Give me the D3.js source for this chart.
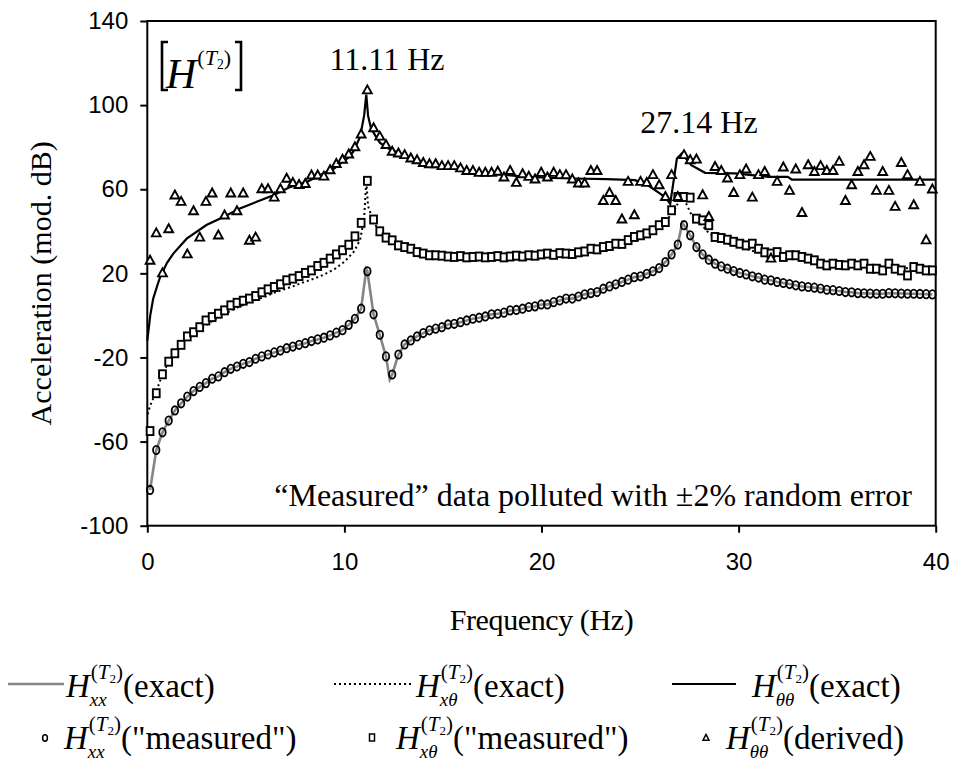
<!DOCTYPE html>
<html lang="en">
<head>
<meta charset="UTF-8">
<title>Acceleration FRF - H(T2)</title>
<script src="https://cdn.jsdelivr.net/npm/d3@7"></script>
<style>
    body{ margin:0; background:#fff; }
    .tick text{ font-family:"Liberation Sans", Arial, sans-serif; font-size:24px; fill:#000; }
    .serif{ font-family:"Liberation Serif", "Times New Roman", serif; fill:#000; }
</style>
</head>
<body>
<div class="container"></div>
<script>
    ////////////////////////////////////////////////////////////////
    /*                       Data                                 */
    ////////////////////////////////////////////////////////////////

    // sampled frequency grid (Hz) of the "measured" data
    const freqStart = 0.14
    const freqStep = 0.315

    // H_xx "measured" (circles)
    const xxMeasured = [
        -83, -64, -55.6, -50, -45.2, -41.8, -38.6, -36, -34, -32.2, -30.1, -29, -27, -25.4, -24.3, -23, -22.2, -20.6,
        -19.5, -18.6, -17.6, -16.7, -15.6, -14.8, -14, -13.2, -12.2, -11.4, -10.6, -9.5, -8.2, -7, -4.5, -1.6, 3.2, 21,
        0.5, -9.2, -19.5, -28.1,
        -18.6, -13.8, -11.9, -10, -8.4, -7.1, -6.3, -5.6, -4.3, -4, -3.2, -2.4, -1.6, -1.1, -0.5, 0.5, 0.8, 1.3, 2.4,
        2.6, 3.2, 4, 4.3, 5.2, 5.2, 6.3, 7.1, 8, 8, 9, 10, 10.6, 11.1, 12.7, 13.8, 14.8, 15.9, 17, 18.2,
        18.6, 19.8, 21, 22.5, 25.4, 29, 33.7, 42.9, 38.1, 32.5, 29, 26.5, 24.6, 23.3, 22.2, 21.1, 20.2, 19.5, 18.6, 18,
        17, 16.7, 15.9, 15.4, 14.9, 14.3, 13.8, 13.5, 13.2, 12.8, 12.2, 12, 11.6, 11.1, 11, 10.6, 10.5, 10.4, 10.3,
        10.3, 10.6, 10.5, 10.4, 10.3, 10.3, 10.2, 10.1, 10
    ]

    // H_xtheta "measured" (squares)
    const xtMeasured = [
        -55, -37, -28, -22, -18, -14, -10, -8, -5.6, -2.4, -0.8, 0.8, 2.4, 4.8, 6, 7, 8, 9.2, 11, 12.4, 13.5, 14.8,
        16.7, 17.5, 18.7, 20.2, 21.4, 23.5, 25, 27, 29, 31, 33.6, 37.6, 44, 64, 45.6, 40, 37, 35.7, 33.3,
        32.5, 31.7, 30.1, 29.4, 28.6, 28.6,
        28.4, 28, 27.8, 28.2, 27.6, 27.8, 28, 27.6, 27.8, 28.2, 27.6, 28, 28.4, 28, 28.6, 28.4, 29,
        29.4, 28.8, 29.6, 29.4, 29.2, 30, 30.4, 31.7, 31.4, 32.5, 33, 34.1, 34,
        35.8, 37.3, 38.1, 39, 40.5, 42.9, 44.4, 50, 56.3, 56.3, 56, 46, 45.2, 42.9, 37.3, 36.8, 36, 35, 34.1, 33.3, 34.1, 31.7,
        30, 29.4, 30.1, 27.8, 28.6, 28.6, 27.8, 27, 26.2, 24.6, 23.8, 24.6, 24, 23.8, 24.6, 23.8, 24.6, 22.2, 22.2,
        21.4, 24.6, 22.2, 21.4, 19, 23, 22.2, 21.4, 21.4
    ]

    // H_thetatheta derived (triangles)
    const ttDerived = [
        26, 39, 20, 41, 57, 54, 29, 49.5, 37, 54, 58, 38, 47.5, 58, 49.5, 58, 35.5, 37, 60, 60, 56, 60, 65, 63, 62,
        62.5, 66.5, 66.5, 66, 69, 72, 74, 76.5, 80, 86, 107,
        89, 85, 81,
        77.8, 77, 76.2, 74.6, 73.8, 72.5, 71.9, 71.9, 71, 71, 71, 69.9, 68.7, 68.7, 67.8, 67.8, 67.8, 68.3, 65.6, 68.7,
        63, 67.1, 65.9, 64.6, 67.8, 65.6, 67.8, 66.7, 66.7, 64.6, 62.7, 62.7, 68.7, 68.7, 54.4, 58.2, 54.4, 45.6, 63.5,
        47.6, 63.5,
        63, 66.7, 61.9, 56.3, 66.7, 56.3, 76.2, 73.8, 74.1, 57.1, 46.8,
        70.6, 68.7, 65.1, 58.2, 66.7, 69.4, 56, 66.7, 68.2, 27, 63.5, 70.3, 59.2, 69.4, 48.7, 71.4, 68.2, 71, 68.7,
        68.7, 73, 54.4, 61.9, 68.2, 71.4, 75.4, 59.2, 68.2, 59.2, 51.6, 72.5, 66.7, 52.4, 63.5, 35.7, 59.9
    ]

    // exact curves (frequency, value)
    const xxPeakF = [11.11, 12.3, 27.14]
    const xxPeakV = [22, -30.5, 44]

    const xtExactF = [0.02, 0.14, 0.46, 0.77, 1.09, 1.4, 1.72, 2.03, 2.5, 3, 3.5, 4, 4.5, 5, 5.5, 6, 6.5, 7, 7.5, 8,
        8.5, 9, 9.5, 10, 10.5, 10.8, 11.0, 11.11, 11.2, 11.5, 11.8, 12.2, 12.6, 13, 13.5, 14, 15, 16, 17, 18, 19, 20,
        21, 22, 23, 24, 25, 25.5, 26, 26.5, 26.8, 27.0, 27.14, 27.3, 27.6, 28, 28.4, 28.8, 29.5, 30, 31, 32, 33, 34,
        35, 36, 37, 38, 39, 40]
    const xtExactV = [-47, -43, -36, -28, -22, -17.8, -14, -10.5, -7.5, -4.5, -1.5, 1, 3.5, 5.5, 7.3, 9, 11, 12.6,
        14.2, 16, 17.6, 19.6, 22, 25.5, 30.5, 36, 46, 64, 52, 44, 40, 36.5, 34, 32.3, 30.8, 29.8, 28.8, 28.2, 27.9,
        27.9, 28.1, 28.6, 29.4, 30.5, 32.3, 34.7, 38, 40.5, 43, 47, 51, 55, 57, 54, 48, 44.5, 40, 37, 34, 32.5, 30,
        28.2, 26.8, 25.6, 24.6, 23.8, 23.2, 22.7, 22.3, 22]

    const ttExactF = [0.0, 0.15, 0.3, 0.5, 0.64, 1.0, 1.32, 2.0, 3.0, 3.86, 4.7, 5.55, 6.4, 7.24, 8.09, 8.93, 9.5,
        9.78, 10.2, 10.46, 10.8, 11.0, 11.11, 11.2, 11.35, 11.6, 11.81, 12.3, 12.83, 13.5, 14.0, 15, 16.55, 18, 19.09,
        20.5, 21.6, 23.3, 24.75, 25.4, 26.0, 26.3, 26.53, 26.87, 27.12, 27.6, 28.3, 29.8, 31.5, 32.5, 32.7, 40]
    const ttExactV = [-12, 0, 8, 14, 18, 25, 29.4, 36.5, 43, 46.8, 50.8, 54, 57.1, 61, 63.5, 67.5, 70, 72, 75, 78,
        85, 95, 105, 95, 89, 85, 82, 79, 77, 74, 72, 70.5, 68.2, 67, 66, 65.4, 65.1, 64.8, 64.3, 61.9, 58, 56, 53,
        74.6, 77, 71.4, 67.8, 67.5, 65.9, 65.9, 64.6, 64.6]

    const xTicks = [0, 10, 20, 30, 40]
    const yTicks = [-100, -60, -20, 20, 60, 100, 140]

    ////////////////////////////////////////////////////////////////
    /*                  Containers and scales                     */
    ////////////////////////////////////////////////////////////////

    const width = 956, height = 765
    const svg = d3.select('.container').append('svg')
        .attr('width', width).attr('height', height)
    const x = d3.scaleLinear().domain([0, 40]).range([147.3, 935.7])
    const y = d3.scaleLinear().domain([-100, 140]).range([525.7, 21])

    const freq = xxMeasured.map((d, i) => freqStart + i * freqStep)
    const pts = (vals) => vals.map((v, i) => [freq[i], v])
    const zip = (fs, vs) => fs.map((f, i) => [f, vs[i]])

    // exact xx curve follows the samples plus its resonance / antiresonance tips
    const xxExact = pts(xxMeasured).concat(zip(xxPeakF, xxPeakV)).sort((a, b) => a[0] - b[0])

    const line = d3.line().x(d => x(d[0])).y(d => y(d[1]))

    ////////////////////////////////////////////////////////////////
    /*                         Axes                               */
    ////////////////////////////////////////////////////////////////

    svg.append('g').attr('transform', `translate(${x(0)},0)`)
        .call(d3.axisLeft(y).tickValues(yTicks).tickFormat(d => String(d))
            .tickSize(7).tickPadding(12).tickSizeOuter(0))
    svg.append('g').attr('transform', `translate(0,${y(-100)})`)
        .call(d3.axisBottom(x).tickValues(xTicks).tickFormat(d => String(d))
            .tickSize(7).tickPadding(20).tickSizeOuter(0))
    svg.selectAll('.domain').remove()
    svg.selectAll('.tick line').attr('stroke', '#000').attr('stroke-width', 2)

    // plot frame
    svg.append('rect')
        .attr('x', x(0)).attr('y', y(140))
        .attr('width', x(40) - x(0)).attr('height', y(-100) - y(140))
        .attr('fill', 'none').attr('stroke', '#000').attr('stroke-width', 2)

    svg.append('text').attr('class', 'serif')
        .attr('transform', `translate(51,${(y(140) + y(-100)) / 2 + 10})rotate(-90)`)
        .attr('text-anchor', 'middle').attr('font-size', 30)
        .text('Acceleration (mod. dB)')
    svg.append('text').attr('class', 'serif')
        .attr('x', (x(0) + x(40)) / 2).attr('y', 630)
        .attr('text-anchor', 'middle').attr('font-size', 30).attr('letter-spacing', -0.4)
        .text('Frequency (Hz)')

    ////////////////////////////////////////////////////////////////
    /*                     Curves and markers                     */
    ////////////////////////////////////////////////////////////////

    const plot = svg.append('g')

    plot.append('path').datum(xxExact).attr('d', line)
        .attr('fill', 'none').attr('stroke', '#858585').attr('stroke-width', 2.6)
    plot.append('path').datum(zip(xtExactF, xtExactV)).attr('d', line)
        .attr('fill', 'none').attr('stroke', '#000').attr('stroke-width', 2).attr('stroke-dasharray', '2,3')
    plot.append('path').datum(zip(ttExactF, ttExactV)).attr('d', line)
        .attr('fill', 'none').attr('stroke', '#000').attr('stroke-width', 2.2)

    plot.selectAll('.circ').data(pts(xxMeasured)).join('ellipse')
        .attr('cx', d => x(d[0])).attr('cy', d => y(d[1]))
        .attr('rx', 3.2).attr('ry', 4.2)
        .attr('fill', 'none').attr('stroke', '#000').attr('stroke-width', 1.8)

    plot.selectAll('.sq').data(pts(xtMeasured)).join('rect')
        .attr('x', d => x(d[0]) - 3.4).attr('y', d => y(d[1]) - 4)
        .attr('width', 6.8).attr('height', 8)
        .attr('fill', '#fff').attr('stroke', '#000').attr('stroke-width', 1.9)

    const tri = 'M0,-5L4.4,3L-4.4,3Z'
    plot.selectAll('.tri').data(pts(ttDerived)).join('path')
        .attr('d', tri)
        .attr('transform', d => `translate(${x(d[0])},${y(d[1])})`)
        .attr('fill', '#fff').attr('stroke', '#000').attr('stroke-width', 1.9)

    ////////////////////////////////////////////////////////////////
    /*                       Annotations                          */
    ////////////////////////////////////////////////////////////////

    svg.append('text').attr('class', 'serif').attr('x', 387).attr('y', 70)
        .attr('text-anchor', 'middle').attr('font-size', 32).text('11.11 Hz')
    svg.append('text').attr('class', 'serif').attr('x', 699).attr('y', 133)
        .attr('text-anchor', 'middle').attr('font-size', 32).text('27.14 Hz')
    svg.append('text').attr('class', 'serif').attr('x', 912).attr('y', 506)
        .attr('text-anchor', 'end').attr('font-size', 32)
        .text('\u201CMeasured\u201D data polluted with \u00B12% random error')

    // width of a string in the serif face
    function textWidth(str, size, italic) {
        const t = svg.append('text').attr('class', 'serif').attr('font-size', size)
            .attr('font-style', italic ? 'italic' : 'normal').text(str)
        const w = t.node().getComputedTextLength()
        t.remove()
        return w
    }

    // H with (T2) superscript and optional subscript, then trailing text, as one text element
    function hLabel(x0, base, hSize, supSize, sub, tail) {
        const hw = textWidth('H', hSize, true)
        const sw = textWidth('()', supSize) + textWidth('T', supSize, true) + textWidth('2', supSize * 0.62)
        const t = svg.append('text').attr('class', 'serif').attr('font-size', hSize)
        t.append('tspan').attr('x', x0).attr('y', base).attr('font-style', 'italic').text('H')
        const sx = x0 + hw + 1
        const sy = base - hSize * 0.55
        t.append('tspan').attr('x', sx).attr('y', sy).attr('font-size', supSize).text('(')
        t.append('tspan').attr('font-size', supSize).attr('font-style', 'italic').text('T')
        t.append('tspan').attr('y', sy + supSize * 0.2).attr('font-size', supSize * 0.62).text('2')
        t.append('tspan').attr('y', sy).attr('font-size', supSize).text(')')
        if (sub) {
            t.append('tspan').attr('x', x0 + hw).attr('y', base + hSize * 0.28)
                .attr('font-size', supSize * 0.9).attr('font-style', 'italic').text(sub)
        }
        if (tail) t.append('tspan').attr('x', sx + sw).attr('y', base).text(tail)
    }

    // [H^(T2)] label
    const bracket = svg.append('g').attr('stroke', '#000').attr('stroke-width', 2.6).attr('fill', 'none')
    bracket.append('path').attr('d', 'M168,42H162V90H168')
    bracket.append('path').attr('d', 'M235,42H241V90H235')
    hLabel(166, 88, 42, 22, null, null)

    ////////////////////////////////////////////////////////////////
    /*                          Legend                            */
    ////////////////////////////////////////////////////////////////

    const row1 = 697, row2 = 749
    const lgSize = 33, lgSup = 21
    svg.append('line').attr('x1', 8).attr('x2', 64).attr('y1', 684).attr('y2', 684)
        .attr('stroke', '#858585').attr('stroke-width', 2.6)
    hLabel(66, row1, lgSize, lgSup, 'xx', '(exact)')
    svg.append('line').attr('x1', 334).attr('x2', 414).attr('y1', 684).attr('y2', 684)
        .attr('stroke', '#000').attr('stroke-width', 2).attr('stroke-dasharray', '2,3')
    hLabel(416, row1, lgSize, lgSup, 'x\u03B8', '(exact)')
    svg.append('line').attr('x1', 672).attr('x2', 736).attr('y1', 684).attr('y2', 684)
        .attr('stroke', '#000').attr('stroke-width', 2.2)
    hLabel(752, row1, lgSize, lgSup, '\u03B8\u03B8', '(exact)')

    svg.append('ellipse').attr('cx', 45).attr('cy', 738).attr('rx', 2.4).attr('ry', 3.2)
        .attr('fill', 'none').attr('stroke', '#000').attr('stroke-width', 1.5)
    hLabel(64, row2, lgSize, lgSup, 'xx', '("measured")')
    svg.append('rect').attr('x', 369.5).attr('y', 734).attr('width', 5).attr('height', 7)
        .attr('fill', '#fff').attr('stroke', '#000').attr('stroke-width', 1.5)
    hLabel(396, row2, lgSize, lgSup, 'x\u03B8', '("measured")')
    svg.append('path').attr('d', 'M0,-3.6L3,2.2L-3,2.2Z').attr('transform', 'translate(706,738)')
        .attr('fill', '#fff').attr('stroke', '#000').attr('stroke-width', 1.5)
    hLabel(726, row2, lgSize, lgSup, '\u03B8\u03B8', '(derived)')
</script>
</body>
</html>
